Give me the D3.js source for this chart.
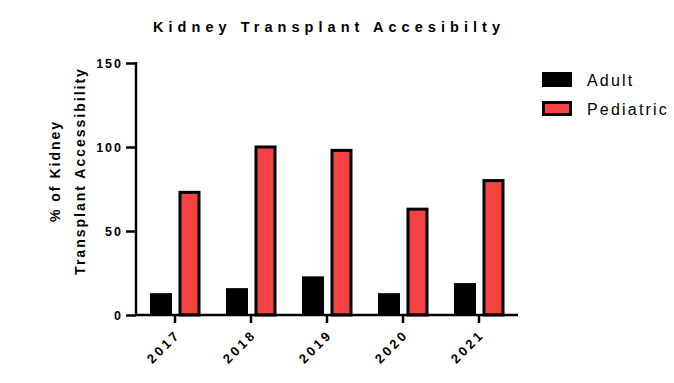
<!DOCTYPE html>
<html>
<head>
<meta charset="utf-8">
<script src="https://cdn.jsdelivr.net/npm/d3@7"></script>
<style>
  body { margin: 0; background: #fff; }
  svg { display: block; font-family: "Liberation Sans", Arial, sans-serif; }
</style>
</head>
<body>
<svg></svg>
<script>
// data
const years = ["2017", "2018", "2019", "2020", "2021"];
const series = ["Adult", "Pediatric"];
const adult = [13, 16, 23, 13, 19];
const pediatric = [73, 100, 98, 63, 80];
const yTicks = [0, 50, 100, 150];
const colors = ["#000000", "#f44343"];

let width = 674,
  height = 383;

let svg = d3.select("svg").attr("width", width).attr("height", height);

let x = d3.scaleBand().domain(years).range([137, 517]).padding(0);
let x1 = d3.scaleBand().domain(series).range([13, 63.5]).paddingInner(0.228);
let y = d3.scaleLinear().domain([0, 150]).range([315, 63]);

// title
svg
  .append("text")
  .attr("x", 153)
  .attr("y", 32)
  .attr("textLength", 347)
  .attr("lengthAdjust", "spacing")
  .style("font-size", "14.5px")
  .style("font-weight", "bold")
  .text("Kidney Transplant Accesibilty");

// y axis label
const yl = svg
  .append("text")
  .attr("transform", "translate(0,171) rotate(-90)")
  .attr("text-anchor", "middle")
  .style("font-size", "14px")
  .style("font-weight", "bold")
  .style("letter-spacing", "2px");
yl.append("tspan").attr("x", 0).attr("y", 60).text("% of Kidney");
yl.append("tspan").attr("x", 0).attr("y", 85).text("Transplant Accessibility");

// bars
let rows = years.map((yr, i) => ({ year: yr, values: [adult[i], pediatric[i]] }));

let groups = svg
  .append("g")
  .selectAll("g")
  .data(rows)
  .enter()
  .append("g")
  .attr("transform", (d) => `translate(${x(d.year)},0)`);

groups
  .selectAll("rect")
  .data((d) => d.values.map((v, j) => ({ key: series[j], v: v, j: j })))
  .enter()
  .append("rect")
  .attr("x", (d) => x1(d.key) + (d.j === 1 ? 1.5 : 0))
  .attr("width", (d) => x1.bandwidth() - (d.j === 1 ? 3 : 0))
  .attr("y", (d) => y(d.v))
  .attr("height", (d) => y(0) - y(d.v))
  .attr("fill", (d) => colors[d.j])
  .attr("stroke", (d) => (d.j === 1 ? "#000" : "none"))
  .attr("stroke-width", 3);

// y axis
let yAxis = svg
  .append("g")
  .attr("transform", "translate(136,0)")
  .call(d3.axisLeft(y).tickValues(yTicks).tickSize(10).tickPadding(3));
yAxis.select(".domain").attr("stroke-width", 2.5).attr("d", "M0,62V316");
yAxis.selectAll(".tick line").attr("stroke-width", 2.5);
yAxis
  .selectAll(".tick text")
  .style("font-size", "12.5px")
  .style("font-weight", "bold")
  .style("letter-spacing", "2px")
  .attr("dy", "0.35em")
  .attr("fill", "#000");

// x axis
let xAxis = svg
  .append("g")
  .attr("transform", "translate(0,315)")
  .call(d3.axisBottom(x).tickSize(8).tickSizeOuter(0));
xAxis.select(".domain").attr("stroke-width", 2.5).attr("d", "M135,0H518");
xAxis.selectAll(".tick line").attr("stroke-width", 2.5);
xAxis
  .selectAll(".tick text")
  .style("font-size", "13px")
  .style("font-weight", "bold")
  .style("letter-spacing", "3px")
  .attr("text-anchor", "end")
  .attr("fill", "#000")
  .attr("dy", "0.35em")
  .attr("x", 0)
  .attr("y", 0)
  .attr("transform", "translate(3,17) rotate(-45)");

// legend
let legend = svg
  .append("g")
  .selectAll("g")
  .data(series)
  .enter()
  .append("g")
  .attr("transform", (d, i) => `translate(542,${72 + i * 29})`);

legend
  .append("rect")
  .attr("x", (d, i) => (i === 1 ? 1.5 : 0))
  .attr("y", (d, i) => (i === 1 ? 1.5 : 0))
  .attr("width", (d, i) => (i === 1 ? 27 : 30))
  .attr("height", (d, i) => (i === 1 ? 12 : 15))
  .attr("fill", (d, i) => colors[i])
  .attr("stroke", (d, i) => (i === 1 ? "#000" : "none"))
  .attr("stroke-width", 3);

legend
  .append("text")
  .attr("x", 45)
  .attr("y", 14)
  .style("font-size", "16px")
  .style("letter-spacing", "2.2px")
  .text((d) => d);
</script>
</body>
</html>
